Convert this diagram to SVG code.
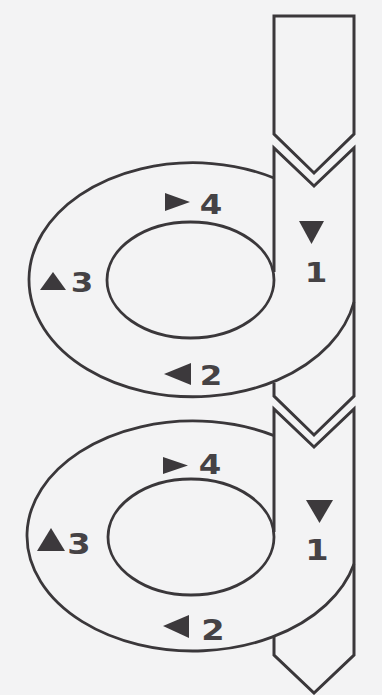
<svg xmlns="http://www.w3.org/2000/svg" width="382" height="695" viewBox="0 0 382 695">
<style>
.ln{fill:none;stroke:#3a373a;stroke-width:3;stroke-linejoin:miter}
.el{fill:none;stroke:#3a373a;stroke-width:2.8}
.tri{fill:#3c393c}
.num{font-family:"DejaVu Sans","Liberation Sans",sans-serif;font-weight:bold;fill:#454245;text-anchor:middle}
</style>
<rect width="382" height="695" fill="#f3f3f4"/>
<g id="connectors">
<g id="arrow-top"><path class="ln" d="M274 16 H354 V134 L314 173 L274 134 Z"/></g>
<g id="arrow-middle"><path class="ln" d="M274 272 V148 L314 186 L354 148 V396 L314 435 L274 396 V383"/></g>
<g id="arrow-bottom"><path class="ln" d="M274 532 V409 L314 447 L354 409 V655 L314 693 L274 655 V637"/></g>
</g>
<g id="ring-upper">
<path class="el" d="M354 302 A164 117 0 1 1 274 178"/>
<ellipse class="el" cx="190.5" cy="280" rx="83.5" ry="58"/>
<g id="upper-step4"><polygon class="tri" points="165,193 165,211 190,202"/><text class="num" font-size="27" transform="translate(211,214) scale(1.2,1)">4</text></g>
<g id="upper-step1"><polygon class="tri" points="299,221 324,221 311.5,244"/><text class="num" font-size="27" transform="translate(316,282) scale(1.2,1)">1</text></g>
<g id="upper-step3"><polygon class="tri" points="53,272 40,290 66,290"/><text class="num" font-size="27" transform="translate(82,292) scale(1.2,1)">3</text></g>
<g id="upper-step2"><polygon class="tri" points="164,374 191,363 191,385"/><text class="num" font-size="27" transform="translate(211,385) scale(1.2,1)">2</text></g>
</g>
<g id="ring-lower">
<path class="el" d="M354 564 A166 115 0 1 1 274 435.6"/>
<ellipse class="el" cx="191" cy="537" rx="83" ry="58"/>
<g id="lower-step4"><polygon class="tri" points="163,457 163,474 188,465.5"/><text class="num" font-size="27" transform="translate(210,474) scale(1.2,1)">4</text></g>
<g id="lower-step1"><polygon class="tri" points="306,500 333,500 319.5,523"/><text class="num" font-size="28" transform="translate(317,560) scale(1.2,1)">1</text></g>
<g id="lower-step3"><polygon class="tri" points="51,528 37,551 65,551"/><text class="num" font-size="28" transform="translate(79,554) scale(1.2,1)">3</text></g>
<g id="lower-step2"><polygon class="tri" points="163,626 189,615 189,638"/><text class="num" font-size="28" transform="translate(213,640) scale(1.2,1)">2</text></g>
</g>
</svg>
